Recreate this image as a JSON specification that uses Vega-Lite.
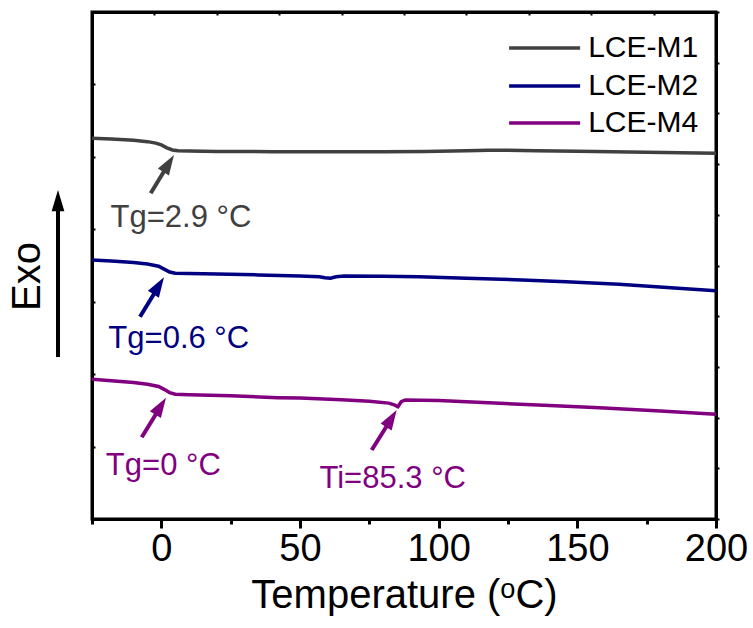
{
  "$schema": "https://vega.github.io/schema/vega-lite/v6.json",
  "width": 624,
  "height": 507,
  "autosize": {"type": "none"},
  "padding": {"left": 92, "top": 12, "right": 37, "bottom": 109},
  "background": "white",
  "config": {
    "font": "Liberation Sans",
    "view": {"stroke": "black", "strokeWidth": 3}
  },
  "datasets": {
    "curves": [
      {"series": "LCE-M1", "t": -25, "v": 5.256},
      {"series": "LCE-M1", "t": -18, "v": 5.245},
      {"series": "LCE-M1", "t": -10, "v": 5.228},
      {"series": "LCE-M1", "t": -5, "v": 5.21},
      {"series": "LCE-M1", "t": -2, "v": 5.19},
      {"series": "LCE-M1", "t": 0, "v": 5.165},
      {"series": "LCE-M1", "t": 2, "v": 5.125},
      {"series": "LCE-M1", "t": 4, "v": 5.095},
      {"series": "LCE-M1", "t": 6, "v": 5.085},
      {"series": "LCE-M1", "t": 10, "v": 5.08},
      {"series": "LCE-M1", "t": 20, "v": 5.075},
      {"series": "LCE-M1", "t": 40, "v": 5.072},
      {"series": "LCE-M1", "t": 60, "v": 5.07},
      {"series": "LCE-M1", "t": 80, "v": 5.071},
      {"series": "LCE-M1", "t": 95, "v": 5.074},
      {"series": "LCE-M1", "t": 110, "v": 5.085},
      {"series": "LCE-M1", "t": 118, "v": 5.092},
      {"series": "LCE-M1", "t": 125, "v": 5.09},
      {"series": "LCE-M1", "t": 135, "v": 5.085},
      {"series": "LCE-M1", "t": 150, "v": 5.078},
      {"series": "LCE-M1", "t": 175, "v": 5.065},
      {"series": "LCE-M1", "t": 200, "v": 5.05},
      {"series": "LCE-M2", "t": -25, "v": 3.576},
      {"series": "LCE-M2", "t": -18, "v": 3.562},
      {"series": "LCE-M2", "t": -10, "v": 3.54},
      {"series": "LCE-M2", "t": -5, "v": 3.52},
      {"series": "LCE-M2", "t": -1, "v": 3.49},
      {"series": "LCE-M2", "t": 1, "v": 3.45},
      {"series": "LCE-M2", "t": 3, "v": 3.41},
      {"series": "LCE-M2", "t": 5, "v": 3.392},
      {"series": "LCE-M2", "t": 10, "v": 3.388},
      {"series": "LCE-M2", "t": 20, "v": 3.383},
      {"series": "LCE-M2", "t": 35, "v": 3.37},
      {"series": "LCE-M2", "t": 50, "v": 3.355},
      {"series": "LCE-M2", "t": 57, "v": 3.345},
      {"series": "LCE-M2", "t": 59, "v": 3.33},
      {"series": "LCE-M2", "t": 61, "v": 3.325},
      {"series": "LCE-M2", "t": 63, "v": 3.345},
      {"series": "LCE-M2", "t": 66, "v": 3.355},
      {"series": "LCE-M2", "t": 80, "v": 3.352},
      {"series": "LCE-M2", "t": 93, "v": 3.345},
      {"series": "LCE-M2", "t": 110, "v": 3.325},
      {"series": "LCE-M2", "t": 130, "v": 3.3},
      {"series": "LCE-M2", "t": 146, "v": 3.276},
      {"series": "LCE-M2", "t": 165, "v": 3.24},
      {"series": "LCE-M2", "t": 185, "v": 3.19},
      {"series": "LCE-M2", "t": 200, "v": 3.152},
      {"series": "LCE-M4", "t": -25, "v": 1.929},
      {"series": "LCE-M4", "t": -18, "v": 1.91},
      {"series": "LCE-M4", "t": -10, "v": 1.885},
      {"series": "LCE-M4", "t": -5, "v": 1.86},
      {"series": "LCE-M4", "t": -1, "v": 1.83},
      {"series": "LCE-M4", "t": 1, "v": 1.79},
      {"series": "LCE-M4", "t": 3, "v": 1.745},
      {"series": "LCE-M4", "t": 5, "v": 1.722},
      {"series": "LCE-M4", "t": 10, "v": 1.715},
      {"series": "LCE-M4", "t": 25, "v": 1.7},
      {"series": "LCE-M4", "t": 42, "v": 1.675},
      {"series": "LCE-M4", "t": 50, "v": 1.67},
      {"series": "LCE-M4", "t": 65, "v": 1.645},
      {"series": "LCE-M4", "t": 75, "v": 1.625},
      {"series": "LCE-M4", "t": 82, "v": 1.6},
      {"series": "LCE-M4", "t": 84, "v": 1.575},
      {"series": "LCE-M4", "t": 85.3, "v": 1.55},
      {"series": "LCE-M4", "t": 86.5, "v": 1.62},
      {"series": "LCE-M4", "t": 88, "v": 1.643},
      {"series": "LCE-M4", "t": 100, "v": 1.635},
      {"series": "LCE-M4", "t": 122, "v": 1.597},
      {"series": "LCE-M4", "t": 140, "v": 1.568},
      {"series": "LCE-M4", "t": 158, "v": 1.537},
      {"series": "LCE-M4", "t": 180, "v": 1.49},
      {"series": "LCE-M4", "t": 200, "v": 1.446}
    ],
    "arrows": [
      {"series": "LCE-M1", "tail_t": -3.83, "tail_v": 4.497, "base_t": 2.69, "base_v": 4.908, "head_t": 4.57, "head_v": 5.026},
      {"series": "LCE-M2", "tail_t": -7.69, "tail_v": 2.793, "base_t": -0.91, "base_v": 3.218, "head_t": 0.96, "head_v": 3.337},
      {"series": "LCE-M4", "tail_t": -7.08, "tail_v": 1.128, "base_t": -0.19, "base_v": 1.557, "head_t": 1.68, "head_v": 1.675},
      {"series": "LCE-M4", "tail_t": 75.86, "tail_v": 0.953, "base_t": 82.99, "base_v": 1.388, "head_t": 84.87, "head_v": 1.505}
    ],
    "notes": [
      {"series": "LCE-M1", "label": "Tg=2.9 °C", "t": -18.3, "v": 4.036},
      {"series": "LCE-M2", "label": "Tg=0.6 °C", "t": -19.1, "v": 2.357},
      {"series": "LCE-M4", "label": "Tg=0 °C", "t": -20.0, "v": 0.6075},
      {"series": "LCE-M4", "label": "Ti=85.3 °C", "t": 57.0, "v": 0.424}
    ],
    "legend": [
      {"series": "LCE-M1", "x1": 125.4, "x2": 151.0, "tx": 153.9, "v": 6.503},
      {"series": "LCE-M2", "x1": 125.4, "x2": 151.0, "tx": 153.9, "v": 5.978},
      {"series": "LCE-M4", "x1": 125.4, "x2": 151.0, "tx": 153.9, "v": 5.467}
    ],
    "exo": [
      {"t": -37.26, "tail_v": 2.237, "base_v": 4.36, "head_v": 4.542}
    ]
  },
  "layer": [
    {
      "data": {"name": "curves"},
      "mark": {"type": "line", "strokeWidth": 3.5, "clip": true},
      "encoding": {
        "x": {
          "field": "t", "type": "quantitative",
          "scale": {"domain": [-25, 200], "nice": false, "zero": false},
          "axis": {
            "orient": "bottom",
            "values": [-25, 0, 25, 50, 75, 100, 125, 150, 175, 200],
            "labelExpr": "datum.value % 50 == 0 && datum.value >= 0 ? datum.label : ''",
            "tickSize": {"condition": {"test": "datum.value % 50 == 0", "value": 9}, "value": 5},
            "tickWidth": 3, "tickColor": "black",
            "domainColor": "black", "domainWidth": 3,
            "labelFontSize": 38, "labelColor": "black", "labelPadding": 2,
            "labelFlush": false, "labelOverlap": false, "grid": false,
            "title": "Temperature (ᵒC)", "titleFontSize": 40, "titleFontWeight": "normal",
            "titleColor": "black", "titlePadding": 7
          }
        },
        "y": {
          "field": "v", "type": "quantitative",
          "scale": {"domain": [0, 7], "nice": false, "zero": false},
          "axis": {
            "orient": "left",
            "values": [0, 1, 2, 3, 4, 5, 6, 7],
            "labels": false, "grid": false,
            "tickSize": -3, "tickWidth": 2, "tickColor": "black",
            "domainColor": "black", "domainWidth": 3,
            "title": "Exo", "titleFontSize": 40, "titleFontWeight": "normal", "titleColor": "black",
            "titleAngle": 270, "titleAlign": "center", "titleBaseline": "middle",
            "titleX": -65, "titleY": 264
          }
        },
        "color": {
          "field": "series", "type": "nominal",
          "scale": {"domain": ["LCE-M1", "LCE-M2", "LCE-M4"], "range": ["#404040", "#000080", "#800080"]},
          "legend": null
        }
      }
    },
    {
      "data": {"name": "arrows"},
      "mark": {"type": "rule", "strokeWidth": 4},
      "encoding": {
        "x": {
          "field": "tail_t", "type": "quantitative",
          "axis": {
            "orient": "top",
            "values": [-25, -2.5, 20, 42.5, 65, 87.5, 110, 132.5, 155, 177.5, 200],
            "labels": false, "grid": false, "title": null,
            "tickSize": -3, "tickWidth": 2, "tickColor": "black",
            "domainColor": "black", "domainWidth": 3
          }
        },
        "y": {
          "field": "tail_v", "type": "quantitative",
          "axis": {
            "orient": "right",
            "values": [0, 0.7, 1.4, 2.1, 2.8, 3.5, 4.2, 4.9, 5.6, 6.3, 7],
            "labels": false, "grid": false, "title": null,
            "tickSize": 3, "tickWidth": 2, "tickColor": "black",
            "domainColor": "black", "domainWidth": 3
          }
        },
        "x2": {"field": "base_t"},
        "y2": {"field": "base_v"},
        "color": {"field": "series", "type": "nominal", "legend": null}
      }
    },
    {
      "data": {"name": "arrows"},
      "mark": {"type": "point", "shape": "M0,0L0.65,2L-0.65,2Z", "filled": true, "opacity": 1, "size": 400, "angle": 32},
      "encoding": {
        "x": {"field": "head_t", "type": "quantitative", "axis": null},
        "y": {"field": "head_v", "type": "quantitative", "axis": null},
        "color": {"field": "series", "type": "nominal", "legend": null}
      }
    },
    {
      "data": {"name": "notes"},
      "mark": {"type": "text", "align": "left", "baseline": "alphabetic", "fontSize": 31},
      "encoding": {
        "x": {"field": "t", "type": "quantitative", "axis": null},
        "y": {"field": "v", "type": "quantitative", "axis": null},
        "text": {"field": "label"},
        "color": {"field": "series", "type": "nominal", "legend": null}
      }
    },
    {
      "data": {"name": "legend"},
      "mark": {"type": "rule", "strokeWidth": 3.5},
      "encoding": {
        "x": {"field": "x1", "type": "quantitative", "axis": null},
        "x2": {"field": "x2"},
        "y": {"field": "v", "type": "quantitative", "axis": null},
        "color": {"field": "series", "type": "nominal", "legend": null}
      }
    },
    {
      "data": {"name": "legend"},
      "mark": {"type": "text", "align": "left", "baseline": "middle", "fontSize": 30, "color": "black"},
      "encoding": {
        "x": {"field": "tx", "type": "quantitative", "axis": null},
        "y": {"field": "v", "type": "quantitative", "axis": null},
        "text": {"field": "series"}
      }
    },
    {
      "data": {"name": "exo"},
      "mark": {"type": "rule", "strokeWidth": 4, "color": "black"},
      "encoding": {
        "x": {"field": "t", "type": "quantitative", "axis": null},
        "y": {"field": "tail_v", "type": "quantitative", "axis": null},
        "y2": {"field": "base_v"}
      }
    },
    {
      "data": {"name": "exo"},
      "mark": {"type": "point", "shape": "M0,0L0.6,2L-0.6,2Z", "filled": true, "opacity": 1, "size": 450, "color": "black"},
      "encoding": {
        "x": {"field": "t", "type": "quantitative", "axis": null},
        "y": {"field": "head_v", "type": "quantitative", "axis": null}
      }
    }
  ],
  "resolve": {"axis": {"x": "independent", "y": "independent"}}
}
